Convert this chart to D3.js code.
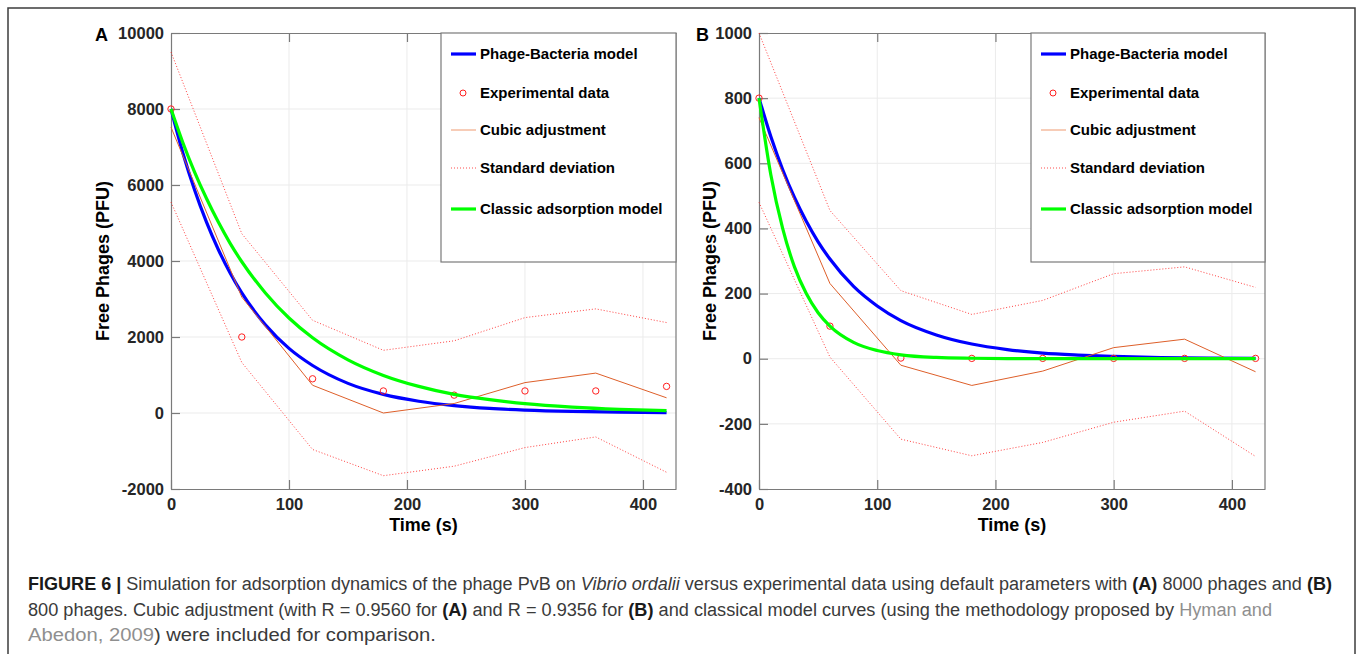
<!DOCTYPE html>
<html>
<head>
<meta charset="utf-8">
<script src="https://cdnjs.cloudflare.com/ajax/libs/d3/7.8.5/d3.min.js"></script>
<style>
  body { margin: 0; background: #fff; }
  svg { display: block; font-family: "Liberation Sans", Arial, sans-serif; }
</style>
</head>
<body>
<div id="chart"></div>
<script>
"use strict";

// time points of the experiment (s)
var timeObs = [0, 60, 120, 180, 240, 300, 360, 420];
var timeModel = [0, 10, 20, 30, 40, 50, 60, 80, 100, 120, 150, 180, 210, 240, 270, 300, 340, 380, 420];
var xTicks = [0, 100, 200, 300, 400];

// panel A, 8000 phages
var expA = [8000, 2000, 900, 580, 470, 580, 580, 700];
var cubicA = [7520, 3050, 730, 0, 250, 800, 1050, 400];
var sdUpperA = [9500, 4720, 2440, 1650, 1900, 2510, 2740, 2380];
var sdLowerA = [5550, 1330, -960, -1650, -1400, -910, -630, -1560];
var phageBactA = [8000, 6850, 5870, 5030, 4310, 3690, 3160, 2320, 1700, 1250, 780, 490, 310, 195, 120, 76, 41, 22, 12];
var classicA = [8000, 7120, 6340, 5650, 5030, 4470, 3980, 3160, 2500, 1980, 1400, 990, 700, 490, 350, 245, 155, 97, 61];
var yTicksA = [-2000, 0, 2000, 4000, 6000, 8000, 10000];

// panel B, 800 phages
var expB = [800, 100, 2, 1, 1, 1, 1, 1];
var cubicB = [740, 231, -20, -82, -38, 34, 60, -40];
var sdUpperB = [1000, 455, 209, 136, 179, 261, 282, 219];
var sdLowerB = [480, 5, -247, -298, -257, -195, -161, -300];
var phageBactB = [800, 682, 581, 495, 422, 359, 306, 222, 162, 117, 73, 45, 28, 17, 11, 7, 3.5, 1.8, 1];
var classicB = [800, 565, 400, 282, 200, 141, 100, 50, 25, 12, 4, 1.5, 0.5, 0.2, 0, 0, 0, 0, 0];
var yTicksB = [-400, -200, 0, 200, 400, 600, 800, 1000];

var legendLabels = ["Phage-Bacteria model", "Experimental data", "Cubic adjustment", "Standard deviation", "Classic adsorption model"];

var BLUE = "#0000ff";
var GREEN = "#00ff00";
var ORANGE = "#de5f2a";
var RED = "#ff2020";
var AXIS_COLOR = "#7a7a7a";
var GRID_COLOR = "#ebebeb";
var TICK_TEXT = "#262626";

var width = 1357;
var height = 654;

var svg = d3.select("#chart").append("svg")
    .attr("width", width)
    .attr("height", height);

// outer frame of the figure
svg.append("rect")
    .attr("x", 8).attr("y", 8)
    .attr("width", 1347).attr("height", 700)
    .attr("fill", "none")
    .attr("stroke", "#3c3c3c")
    .attr("stroke-width", 1.5);

drawPanel({
  letter: "A", left: 171, right: 676, top: 33, bottom: 489,
  yDomain: [-2000, 10000], yTicks: yTicksA, yLabelX: 103, letterX: 95,
  exp: expA, cubic: cubicA, sdUp: sdUpperA, sdLow: sdLowerA,
  pb: phageBactA, classic: classicA, legendLeft: 441
});

drawPanel({
  letter: "B", left: 759, right: 1265, top: 33, bottom: 489,
  yDomain: [-400, 1000], yTicks: yTicksB, yLabelX: 710, letterX: 696,
  exp: expB, cubic: cubicB, sdUp: sdUpperB, sdLow: sdLowerB,
  pb: phageBactB, classic: classicB, legendLeft: 1031
});

drawCaption();

function drawPanel(p) {
  var x = d3.scaleLinear().domain([0, 428]).range([p.left, p.right]);
  var y = d3.scaleLinear().domain(p.yDomain).range([p.bottom, p.top]);
  var g = svg.append("g");
  var plain = function(d) { return String(d); };  // no thousands comma, plain hyphen minus

  // grid
  g.selectAll(".vgrid").data(xTicks.slice(1)).enter().append("line")
      .attr("x1", function(d) { return x(d); }).attr("x2", function(d) { return x(d); })
      .attr("y1", p.top).attr("y2", p.bottom)
      .attr("stroke", GRID_COLOR).attr("stroke-width", 1);
  g.selectAll(".hgrid").data(p.yTicks.slice(1, -1)).enter().append("line")
      .attr("x1", p.left).attr("x2", p.right)
      .attr("y1", function(d) { return y(d); }).attr("y2", function(d) { return y(d); })
      .attr("stroke", GRID_COLOR).attr("stroke-width", 1);

  // axes: bottom / left with labels, top without, ticks point inwards
  var xAxis = d3.axisBottom(x).tickValues(xTicks).tickFormat(plain)
      .tickSizeInner(-9).tickSizeOuter(0).tickPadding(9);
  var yAxis = d3.axisLeft(y).tickValues(p.yTicks).tickFormat(plain)
      .tickSizeInner(-9).tickSizeOuter(0).tickPadding(7);
  var xTop = d3.axisTop(x).tickValues(xTicks.slice(1)).tickSizeInner(-9).tickSizeOuter(0).tickFormat("");

  var ax = g.append("g").attr("transform", "translate(0," + p.bottom + ")").call(xAxis);
  var ay = g.append("g").attr("transform", "translate(" + p.left + ",0)").call(yAxis);
  var at = g.append("g").attr("transform", "translate(0," + p.top + ")").call(xTop);
  g.append("line")
      .attr("x1", p.right).attr("x2", p.right).attr("y1", p.top).attr("y2", p.bottom)
      .attr("stroke", AXIS_COLOR).attr("stroke-width", 1.2);

  [ax, ay, at].forEach(function(a) {
    a.select(".domain").attr("stroke", AXIS_COLOR).attr("stroke-width", 1.2);
    a.selectAll(".tick line").attr("stroke", AXIS_COLOR).attr("stroke-width", 1.2);
    a.selectAll(".tick text")
        .attr("fill", TICK_TEXT)
        .attr("font-size", "16.5px")
        .attr("font-weight", "bold")
        .attr("font-family", "Liberation Sans, Arial, sans-serif");
  });

  // axis labels and panel letter
  svg.append("text")
      .attr("transform", "translate(" + p.yLabelX + "," + ((p.top + p.bottom) / 2) + ") rotate(-90)")
      .attr("text-anchor", "middle").attr("dy", "0.36em")
      .attr("font-size", "18px").attr("font-weight", "bold").attr("fill", "#000")
      .text("Free Phages (PFU)");
  svg.append("text")
      .attr("x", (p.left + p.right) / 2).attr("y", 531)
      .attr("text-anchor", "middle")
      .attr("font-size", "18px").attr("font-weight", "bold").attr("fill", "#000")
      .text("Time (s)");
  svg.append("text")
      .attr("x", p.letterX).attr("y", 41)
      .attr("font-size", "18px").attr("font-weight", "bold").attr("fill", "#000")
      .text(p.letter);

  var lineObs = function(vals) {
    return d3.line()
        .x(function(d, i) { return x(timeObs[i]); })
        .y(function(d) { return y(d); })(vals);
  };
  var lineModel = function(vals) {
    return d3.line()
        .curve(d3.curveMonotoneX)
        .x(function(d, i) { return x(timeModel[i]); })
        .y(function(d) { return y(d); })(vals);
  };

  // phage-bacteria model
  g.append("path").attr("d", lineModel(p.pb))
      .attr("fill", "none").attr("stroke", BLUE).attr("stroke-width", 3.2);

  // experimental data
  g.selectAll(".exp").data(p.exp).enter().append("circle")
      .attr("cx", function(d, i) { return x(timeObs[i]); })
      .attr("cy", function(d) { return y(d); })
      .attr("r", 3.2)
      .attr("fill", "none").attr("stroke", RED).attr("stroke-width", 1);

  // cubic adjustment
  g.append("path").attr("d", lineObs(p.cubic))
      .attr("fill", "none").attr("stroke", ORANGE).attr("stroke-width", 1);

  // standard deviation band
  [p.sdUp, p.sdLow].forEach(function(vals) {
    g.append("path").attr("d", lineObs(vals))
        .attr("fill", "none").attr("stroke", RED).attr("stroke-width", 1)
        .attr("stroke-dasharray", "1,2").attr("opacity", 0.85);
  });

  // classic adsorption model
  g.append("path").attr("d", lineModel(p.classic))
      .attr("fill", "none").attr("stroke", GREEN).attr("stroke-width", 3.2);

  drawLegend(p.legendLeft, p.top, p.right);
}

function drawLegend(left, top, right) {
  var lg = svg.append("g");
  lg.append("rect")
      .attr("x", left).attr("y", top)
      .attr("width", right - left).attr("height", 229)
      .attr("fill", "#fff").attr("stroke", AXIS_COLOR).attr("stroke-width", 1.2);

  var rowY = [21, 60, 97, 135, 176];
  legendLabels.forEach(function(label, i) {
    var cy = top + rowY[i];
    if (i === 1) {
      lg.append("circle").attr("cx", left + 22).attr("cy", cy).attr("r", 3)
          .attr("fill", "none").attr("stroke", RED).attr("stroke-width", 1);
    } else {
      var st = [BLUE, null, "#ef9a70", RED, GREEN][i];
      var ln = lg.append("line")
          .attr("x1", left + 10).attr("x2", left + 35)
          .attr("y1", cy).attr("y2", cy)
          .attr("stroke", st)
          .attr("stroke-width", (i === 0 || i === 4) ? 3.2 : 1);
      if (i === 3) ln.attr("stroke-dasharray", "1,2").attr("opacity", 0.8);
    }
    lg.append("text")
        .attr("x", left + 39).attr("y", cy).attr("dy", "0.36em")
        .attr("font-size", "15px").attr("font-weight", "bold").attr("fill", "#000")
        .text(label);
  });
}

function drawCaption() {
  var lines = [
    { y: 590, end: 1332, parts: [
      ["FIGURE 6 |", "b"], [" Simulation for adsorption dynamics of the phage PvB on ", ""],
      ["Vibrio ordalii", "i"], [" versus experimental data using default parameters with ", ""],
      ["(A)", "b"], [" 8000 phages and ", ""], ["(B)", "b"] ] },
    { y: 616, end: 1272, parts: [
      ["800 phages. Cubic adjustment (with R = 0.9560 for ", ""], ["(A)", "b"],
      [" and R = 0.9356 for ", ""], ["(B)", "b"],
      [" and classical model curves (using the methodology proposed by ", ""], ["Hyman and", "l"] ] },
    { y: 641, end: 436, parts: [
      ["Abedon, 2009", "l"], [") were included for comparison.", ""] ] }
  ];
  var startX = 28;
  lines.forEach(function(line) {
    var t = svg.append("text")
        .attr("x", startX).attr("y", line.y)
        .attr("font-size", "18px")
        .attr("fill", "#3a3a3a")
        .attr("textLength", line.end - startX)
        .attr("lengthAdjust", "spacingAndGlyphs")
        .attr("xml:space", "preserve");
    line.parts.forEach(function(part) {
      var s = t.append("tspan").text(part[0]);
      if (part[1] === "b") s.attr("font-weight", "bold").attr("fill", "#1a1a1a");
      if (part[1] === "i") s.attr("font-style", "italic");
      if (part[1] === "l") s.attr("fill", "#8f8f8f");
    });
  });
}
</script>
</body>
</html>
